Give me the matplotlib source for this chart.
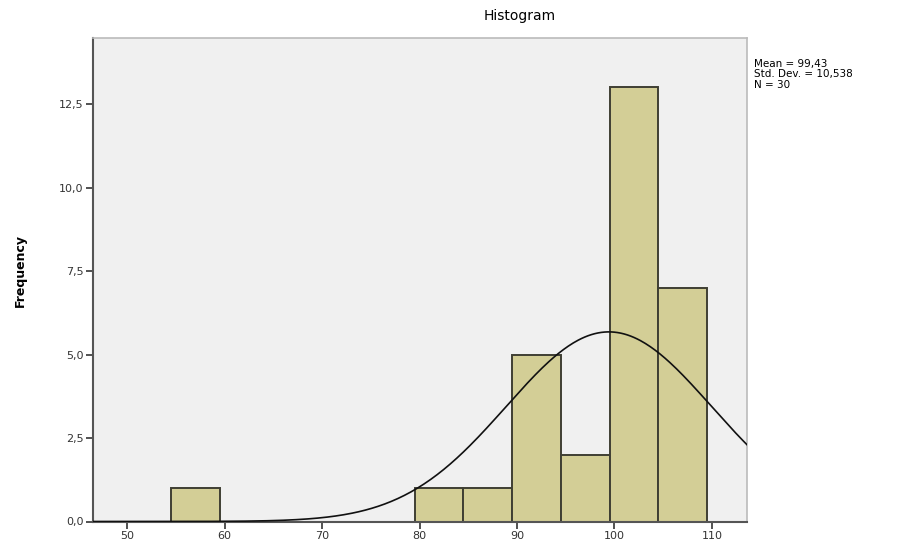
import numpy as np
import matplotlib
matplotlib.use("Agg")
import matplotlib.pyplot as plt

# Histogram data: bin edges and frequencies
bin_edges = [54.5, 59.5, 64.5, 69.5, 74.5, 79.5, 84.5, 89.5, 94.5, 99.5, 104.5, 109.5]
frequencies = [1, 0, 0, 0, 0, 1, 1, 5, 2, 13, 7]

# Summary statistics
mean_value = 99.43
std_value = 10.538
n_total = 30

x_ticks = [50, 60, 70, 80, 90, 100, 110]
y_ticks = [0.0, 2.5, 5.0, 7.5, 10.0, 12.5]
y_tick_labels = ["0,0", "2,5", "5,0", "7,5", "10,0", "12,5"]

fig = plt.figure(figsize=(9.02, 5.41), dpi=100)
ax = fig.add_axes([93 / 902, 19.5 / 541, (747 - 93) / 902, (521.5 - 38) / 541])
ax.set_facecolor("#f0f0f0")

lefts = bin_edges[:-1]
widths = np.diff(bin_edges)
for left, w, f in zip(lefts, widths, frequencies):
    if f > 0:
        ax.bar(left, f, width=w, align="edge", color="#d3ce96",
               edgecolor="#3f3f33", linewidth=1.4, zorder=2)

# Normal curve scaled to counts
xs = np.linspace(46.5, 113.6, 400)
bw = widths[0]
ys = n_total * bw / (std_value * np.sqrt(2 * np.pi)) * np.exp(-0.5 * ((xs - mean_value) / std_value) ** 2)
ax.plot(xs, ys, color="#111111", linewidth=1.2, zorder=3)

ax.set_xlim(46.5, 113.6)
ax.set_ylim(0, 14.48)
ax.set_xticks(x_ticks)
ax.set_xticklabels([str(t) for t in x_ticks], fontsize=8, color="#333333")
ax.set_yticks(y_ticks)
ax.set_yticklabels(y_tick_labels, fontsize=8, color="#333333")
ax.tick_params(axis="both", direction="out", length=5, width=1.2, color="#333333", pad=2)

for side in ["left", "bottom"]:
    ax.spines[side].set_color("#555555")
    ax.spines[side].set_linewidth(1.5)
for side in ["top", "right"]:
    ax.spines[side].set_color("#bbbbbb")
    ax.spines[side].set_linewidth(1.2)

fig.text(20 / 902, 0.5, "Frequency", fontsize=9, fontweight="bold",
         rotation=90, ha="center", va="center")
fig.text(520 / 902, 1 - 16 / 541, "Histogram", fontsize=10, ha="center", va="center")

mean_txt = f"{mean_value:.2f}".replace(".", ",")
std_txt = f"{std_value:.3f}".replace(".", ",")
fig.text(754 / 902, 1 - 64 / 541, f"Mean = {mean_txt}", fontsize=7.5, va="center")
fig.text(754 / 902, 1 - 74 / 541, f"Std. Dev. = {std_txt}", fontsize=7.5, va="center")
fig.text(754 / 902, 1 - 85 / 541, f"N = {n_total}", fontsize=7.5, va="center")

fig.savefig("out.png", dpi=100)
